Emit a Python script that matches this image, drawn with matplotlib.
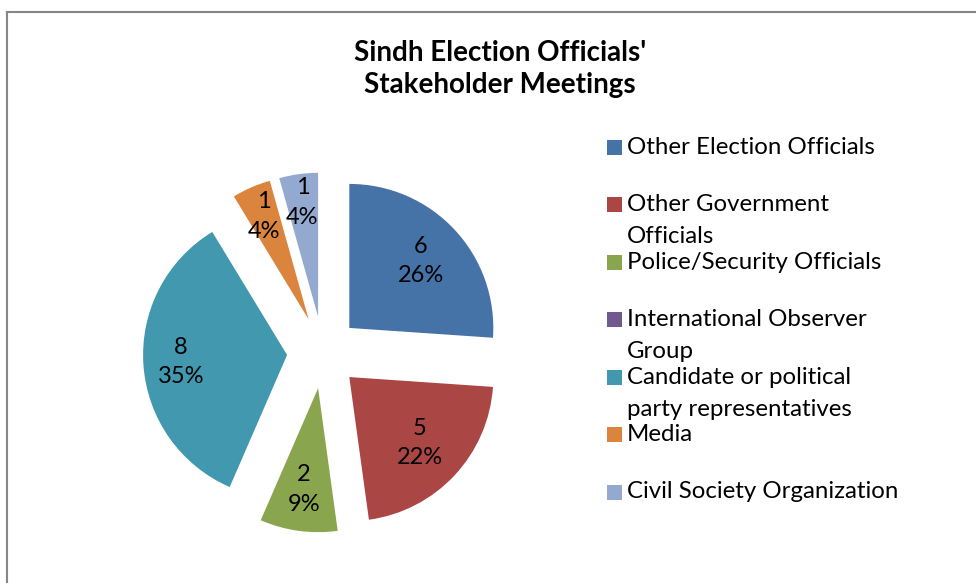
import numpy as np
import matplotlib.pyplot as plt
from matplotlib.patches import Rectangle
from matplotlib.lines import Line2D

# stakeholder groups met by Sindh election officials
categories = ['Other Election Officials', 'Other Government\nOfficials',
              'Police/Security Officials', 'International Observer\nGroup',
              'Candidate or political\nparty representatives', 'Media',
              'Civil Society Organization']
meetings = [6, 5, 2, 0, 8, 1, 1]
colors = ['#4572A7', '#AA4643', '#89A54E', '#71588F', '#4198AF', '#DB843D', '#93A9CF']

total = sum(meetings)

plt.rcParams['font.family'] = ['Lato', 'DejaVu Sans']

W, H = 976, 583
fig = plt.figure(figsize=(W / 100, H / 100), dpi=100)

# square axes so 1 data unit = 144 px, pie centre at (323, 352) px
half = 1.6 * 144
cx, cy = 323, 352.5
ax = fig.add_axes([(cx - half) / W, (H - cy - half) / H, 2 * half / W, 2 * half / H])


def label(pct):
    n = round(pct * total / 100)
    if n == 0:
        return ''
    return f'{n}\n{pct:.0f}%'


wedges, texts, autotexts = ax.pie(meetings, colors=colors, startangle=90, counterclock=False,
                                  explode=[0.25] * len(meetings), autopct=label, pctdistance=0.73,
                                  textprops={'fontsize': 17, 'linespacing': 1.5},
                                  wedgeprops={'linewidth': 0})

# excel pushes the labels of the thin slices a bit further out
lab_dist = [0.68, 0.67, 0.71, 0.7, 0.74, 0.78, 0.8]
for w, t, d in zip(wedges, autotexts, lab_dist):
    mid = np.deg2rad((w.theta1 + w.theta2) / 2)
    t.set_position((w.center[0] + d * np.cos(mid), w.center[1] + d * np.sin(mid)))

ax.set_xlim(-1.6, 1.6)
ax.set_ylim(-1.6, 1.6)
ax.axis('off')

fig.text(500 / W, 1 - 69 / H, "Sindh Election Officials'\nStakeholder Meetings",
         ha='center', va='center', fontsize=20, fontweight='bold', linespacing=1.25)

# legend drawn by hand so the swatch sits on the first line of wrapped labels
y0 = 147
step = 57.5
for i, (name, c) in enumerate(zip(categories, colors)):
    y = y0 + i * step
    fig.add_artist(Rectangle((607 / W, 1 - (y + 7.5) / H), 15 / W, 15 / H,
                             transform=fig.transFigure, color=c, lw=0))
    for j, line in enumerate(name.split('\n')):
        fig.text(627 / W, 1 - (y + j * 32) / H, line, ha='left', va='center', fontsize=17.3)

# chart border (top and left edges visible)
fig.add_artist(Line2D([6.5 / W, 1], [1 - 12 / H, 1 - 12 / H], color='#868686', lw=1.5))
fig.add_artist(Line2D([6.5 / W, 6.5 / W], [0, 1 - 12 / H], color='#868686', lw=1.5))

fig.savefig('out.png', dpi=100)
